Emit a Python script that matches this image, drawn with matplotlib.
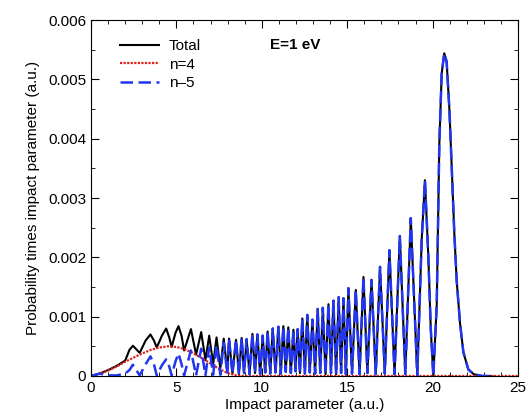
import matplotlib
matplotlib.use("Agg")
import matplotlib.pyplot as plt
from matplotlib.ticker import MultipleLocator, FuncFormatter

plt.rcParams['font.family'] = ['Liberation Sans', 'DejaVu Sans']

# n=4 contribution (smooth hump)
n4_b = [0, 0.5, 1, 1.5, 2, 2.5, 3, 3.5, 4, 4.5, 5, 5.5, 6, 6.5, 7, 7.5, 8, 8.5, 9, 10, 25]
n4_p = [0, 0.00004, 0.00009, 0.00016, 0.00024, 0.00031, 0.00038, 0.00044, 0.00048, 0.0005,
        0.00049, 0.00045, 0.00038, 0.0003, 0.00021, 0.00012, 0.00005, 0.00001, 0, 0, 0]

# low-b region, where total and n=5 differ
early_b = [0, 0.5, 1.0, 1.5, 2.0, 2.25, 2.45, 2.65, 2.85, 3.2, 3.48, 3.68, 3.85, 4.15, 4.40,
           4.58, 4.72, 4.95, 5.12, 5.3, 5.45, 5.85, 6.15, 6.45, 6.70, 6.92, 7.15, 7.35,
           7.57, 7.77, 7.98]
early_total = [0, 0.00004, 0.0001, 0.00017, 0.00026, 0.00044, 0.00051, 0.00045, 0.00039,
               0.0006, 0.00070, 0.0006, 0.00048, 0.00068, 0.00080, 0.00065, 0.00049,
               0.00073, 0.00084, 0.00068, 0.00043, 0.00079, 0.00036, 0.00074, 0.00027,
               0.00068, 0.0002, 0.00065, 0.00013, 0.00063, 0.00008]
early_n5 = [0, 0.00004, 0.00001, 0.00001, 0.00004, 0.0001, 0.00019, 0.0001, 0.00001,
            0.0002, 0.00033, 0.0002, 0.00001, 0.00018, 0.00028, 0.00016, 0.00001,
            0.00025, 0.00038, 0.0002, 0.00001, 0.00043, 0.00001, 0.00046, 0.00001,
            0.00048, 0.00002, 0.00052, 0.00002, 0.00056, 0.00003]

# high-b region, total and n=5 coincide (peaks and troughs)
tail_b = [8.08, 8.28, 8.49, 8.66, 8.82, 8.96, 9.11, 9.28, 9.45, 9.6, 9.74, 9.9, 10.05, 10.2,
          10.34, 10.49, 10.64, 10.8, 10.97, 11.11, 11.26, 11.4, 11.55, 11.7, 11.85, 11.97,
          12.1, 12.23, 12.37, 12.52, 12.66, 12.81, 12.96, 13.12, 13.27, 13.42, 13.57, 13.73,
          13.9, 14.05, 14.19, 14.35, 14.5, 14.64, 14.78, 14.92, 15.07, 15.28, 15.5, 15.72,
          15.95, 16.18, 16.42, 16.67, 16.92, 17.2, 17.47, 17.77, 18.08, 18.4, 18.72, 19.1,
          19.36, 19.55, 19.75, 19.89, 20.04, 20.24, 20.39, 20.53, 20.68, 20.82, 20.98, 21.12,
          21.27, 21.41, 21.6, 21.8, 22.09, 22.4, 22.9, 23.5]
tail_p = [0.00063, 0.00004, 0.00061, 0.00003, 0.00064, 0.00005, 0.00062, 0.00003, 0.00071,
          0.00005, 0.0007, 0.00003, 0.00068, 0.00006, 0.00075, 0.00004, 0.0008, 0.00006,
          0.00083, 0.00004, 0.00084, 0.00007, 0.00082, 0.00005, 0.00078, 0.00008, 0.00079,
          0.00005, 0.00097, 0.00004, 0.00103, 0.00006, 0.00095, 0.00004, 0.00113, 0.00005,
          0.00115, 0.00003, 0.00121, 0.00005, 0.00127, 0.00003, 0.00133, 0.00005, 0.00131,
          0.00003, 0.00148, 0.00004, 0.00145, 0.00003, 0.00167, 0.00005, 0.00162, 0.00003,
          0.00184, 0.00004, 0.00212, 0.00003, 0.00236, 0.00003, 0.00266, 0.00001,
          0.0023, 0.0033, 0.002, 0.0008, 0, 0.0012, 0.0039, 0.0051, 0.00544, 0.0053, 0.0045,
          0.0035, 0.0024, 0.0016, 0.0009, 0.0004, 0.00011, 0.00003, 0, 0]

total_b = early_b + tail_b
total_p = early_total + tail_p
n5_b = early_b + tail_b
n5_p = early_n5 + tail_p

fig = plt.figure(figsize=(5.27, 4.18), dpi=100)
ax = fig.add_axes([0.1727, 0.1005, 0.8103, 0.8515])

ax.plot(total_b, total_p, color='black', lw=1.5, label='Total')
ax.plot(n4_b, n4_p, color='#e3221a', lw=1.6, ls=(0, (1, 0.6)), label='n=4')
ax.plot(n5_b, n5_p, color='#2236f0', lw=1.8, ls=(0, (5, 2.2)), label='n–5')

ax.set_xlim(0, 25)
ax.set_ylim(0, 0.006)
ax.xaxis.set_major_locator(MultipleLocator(5))
ax.xaxis.set_minor_locator(MultipleLocator(1))
ax.yaxis.set_major_locator(MultipleLocator(0.001))
ax.yaxis.set_minor_locator(MultipleLocator(0.0005))
ax.yaxis.set_major_formatter(FuncFormatter(lambda v, p: '0' if abs(v) < 1e-12 else '%.3f' % v))
ax.tick_params(which='both', direction='in', top=True, right=True, labelsize=11)
ax.tick_params(which='major', length=6)
ax.tick_params(which='minor', length=3)

ax.set_xlabel('Impact parameter (a.u.)', fontsize=11, labelpad=2)
ax.set_ylabel('Probability times impact parameter (a.u.)', fontsize=11, labelpad=6)

ax.legend(loc='upper left', bbox_to_anchor=(0.035, 0.985), frameon=False, fontsize=11,
          handlelength=2.6, labelspacing=0.3, handletextpad=0.6)
ax.text(0.42, 0.93, 'E=1 eV', transform=ax.transAxes, fontsize=11, fontweight='bold',
        va='center')

fig.savefig('out.png', dpi=100)
